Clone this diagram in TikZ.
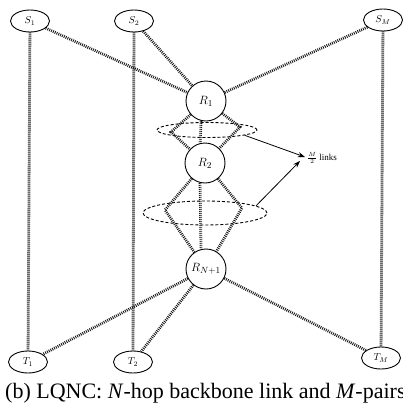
\documentclass[tikz,border=0pt]{standalone}
\usepackage{fontspec}
\setmainfont{Liberation Serif}
\usetikzlibrary{shapes.geometric,arrows.meta}

\begin{document}
\begin{tikzpicture}[x=1pt,y=-1pt,
  term/.style={ellipse,draw,line width=0.9pt,minimum width=39pt,minimum height=22pt,
    inner sep=0pt,font=\fontsize{10}{10}\selectfont},
  relay/.style={circle,draw,line width=0.9pt,minimum size=40pt,inner sep=0pt,
    font=\fontsize{13}{13}\selectfont},
  link/.style={line width=2.8pt,dash pattern=on 0.9pt off 1.1pt,black!90},
  group/.style={ellipse,draw,line width=0.9pt,dash pattern=on 3pt off 2pt,inner sep=0pt},
  pointer/.style={-{Stealth[length=7pt,width=5pt]},line width=0.8pt}]

\useasboundingbox (0,0) rectangle (403,413);

% sources and sinks
\node[term] (S1) at (30,21) {$S_1$};
\node[term] (S2) at (134,21) {$S_2$};
\node[term] (SM) at (383,20) {$S_M$};
\node[term] (T1) at (28,362) {$T_1$};
\node[term] (T2) at (133,362) {$T_2$};
\node[term] (TM) at (381,358) {$T_M$};

% backbone relays
\node[relay] (R1) at (206,101) {$R_1$};
\node[relay] (R2) at (205,163) {$R_2$};
\node[relay] (RN) at (206,269) {$R_{N+1}$};

% bundles of parallel links between consecutive relays
\node[group,minimum width=100pt,minimum height=15pt] (E1) at (207,130) {};
\node[group,minimum width=124pt,minimum height=24pt] (E2) at (205,213) {};

\coordinate (a1) at (171,132);
\coordinate (b1) at (240,127);
\coordinate (a2) at (165,210);
\coordinate (b2) at (242,208);

\draw[link] (R1) -- (a1) -- (R2);
\draw[link] (R1) -- (b1) -- (R2);
\draw[link] (R1.256) -- (R2.104);
\draw[link] (R2) -- (a2) -- (RN);
\draw[link] (R2) -- (b2) -- (RN);
\draw[link] (R2.256) -- (RN.104);

% direct source-sink links
\draw[link] (S1) -- (T1);
\draw[link] (S2) -- (T2);
\draw[link] (SM) -- (TM);

% access links
\draw[link] (S1) -- (R1);
\draw[link] (S2) -- (R1);
\draw[link] (SM) -- (R1);
\draw[link] (RN) -- (T1);
\draw[link] (RN) -- (T2);
\draw[link] (RN) -- (TM);

% bundle annotation
\node[anchor=west,inner sep=1pt,font=\fontsize{9}{9}\selectfont] (L) at (306,158)
  {$\frac{M}{2}$ links};
\draw[pointer] (E1.-8) -- ([shift={(-1,-1)}]L.west);
\draw[pointer] (E2.8) -- ([shift={(-6,3)}]L.west);

% caption
\node[anchor=base west,inner sep=0pt,font=\fontsize{22}{22}\selectfont] (cap) at (5,398)
  {(b) LQNC: \textit{N}-hop backbone link and \textit{M}-pairs};
\end{tikzpicture}
\end{document}
